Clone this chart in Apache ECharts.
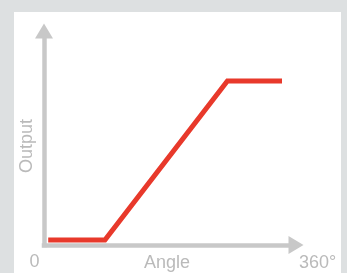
<!DOCTYPE html>
<html>
<head>
<meta charset="utf-8">
<script src="https://cdn.jsdelivr.net/npm/echarts@6/dist/echarts.min.js"></script>
<style>
html, body { margin: 0; padding: 0; width: 347px; height: 273px; overflow: hidden; background: #dde0e1; }
#chart { position: absolute; left: 14px; top: 12px; width: 327px; height: 261px; background: #fff; }
</style>
</head>
<body>
<div id="chart"></div>
<script>
// angle in degrees, output in percent
var angle = [6, 87, 262, 340];
var output = [2.3, 2.3, 76.6, 76.6];
var tickLabels = ["0", "360°"];
var xName = "Angle";
var yName = "Output";

var axisColor = "#c8c8c8";
var textColor = "#bababa";
var font = "'Liberation Sans', Arial, sans-serif";

var chart = echarts.init(document.getElementById("chart"));

var axisLine = {
  show: true,
  symbol: ["none", "triangle"],
  symbolSize: [18, 15],
  lineStyle: { color: axisColor, width: 4.5, cap: "square" }
};

function label(text, x, y, rot) {
  return {
    type: "text",
    x: x,
    y: y,
    rotation: rot || 0,
    style: {
      text: text,
      fill: textColor,
      font: "18px " + font,
      align: "center",
      verticalAlign: "middle"
    }
  };
}

chart.setOption({
  animation: false,
  grid: { left: 30, right: 45, top: 19, bottom: 28 },
  xAxis: {
    type: "value",
    min: 0,
    max: 360,
    axisLine: axisLine,
    axisTick: { show: false },
    axisLabel: { show: false },
    splitLine: { show: false }
  },
  yAxis: {
    type: "value",
    min: 0,
    max: 100,
    axisLine: axisLine,
    axisTick: { show: false },
    axisLabel: { show: false },
    splitLine: { show: false }
  },
  graphic: [
    label(tickLabels[0], 20.5, 250),
    label(xName, 153, 251),
    label(tickLabels[1], 303.5, 251),
    label(yName, 13.5, 134, Math.PI / 2)
  ],
  series: [
    {
      type: "line",
      data: angle.map(function (a, i) { return [a, output[i]]; }),
      symbol: "none",
      lineStyle: { color: "#e8392b", width: 5, join: "miter" }
    }
  ]
});
</script>
</body>
</html>
